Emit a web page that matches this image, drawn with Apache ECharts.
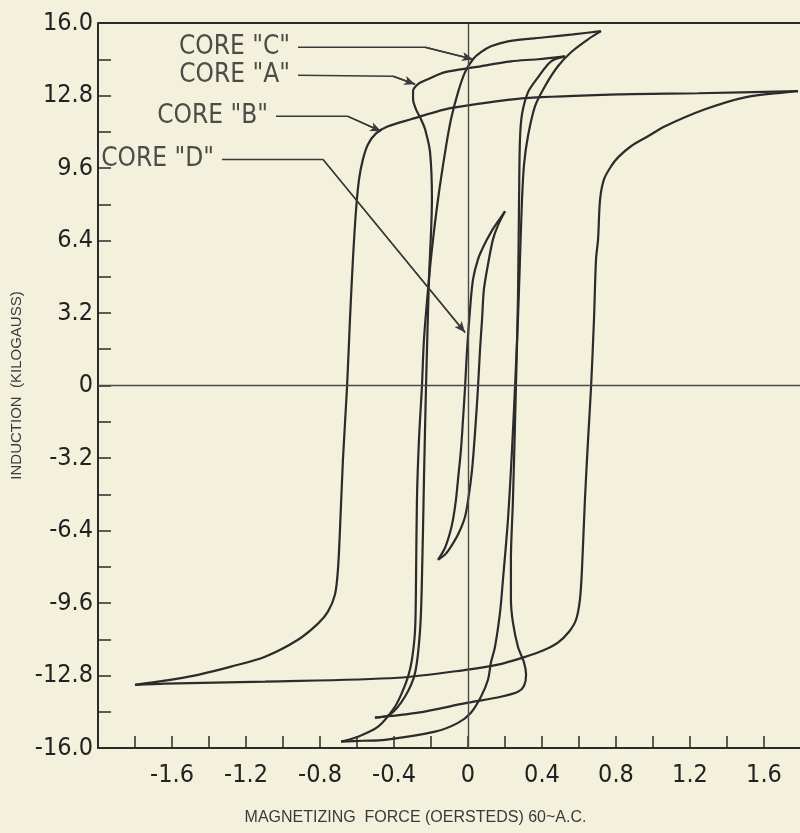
<!DOCTYPE html>
<html>
<head>
<meta charset="utf-8">
<script src="https://cdn.jsdelivr.net/npm/echarts@6/dist/echarts.min.js"></script>
<style>
  html, body { margin: 0; padding: 0; background: #f3f1dc; }
  #chart { width: 800px; height: 833px; }
</style>
</head>
<body>
<div id="chart"></div>
<script>
// ---- Axis ranges / ticks ----
const xMin = -2.0, xMax = 1.8, xStep = 0.2;      // oersteds
const yMin = -16.0, yMax = 16.0, yStep = 1.6;    // kilogauss
const xTitle = 'MAGNETIZING  FORCE (OERSTEDS) 60~A.C.';
const yTitle = 'INDUCTION  (KILOGAUSS)';

// ---- Hysteresis loops: [H (Oe), B (kG)] ----
const coreB_desc = [[1.784,12.99],[1.243,12.90],[0.811,12.85],[0.308,12.68],[0.038,12.41],[-0.124,12.19],[-0.308,11.75],[-0.432,11.44],[-0.497,11.13],[-0.541,10.64],[-0.568,9.98],[-0.589,9.10],[-0.605,7.77],[-0.622,5.57],[-0.638,2.92],[-0.654,-0.09],[-0.676,-3.27],[-0.692,-6.36],[-0.703,-8.13],[-0.719,-9.23],[-0.757,-9.98],[-0.811,-10.51],[-0.919,-11.22],[-1.097,-11.97],[-1.281,-12.41],[-1.459,-12.77],[-1.638,-13.03],[-1.800,-13.21]];
const coreB_asc = [[-1.800,-13.21],[-1.638,-13.16],[-1.097,-13.07],[-0.378,-12.90],[0.0,-12.54],[0.162,-12.32],[0.297,-12.01],[0.405,-11.70],[0.486,-11.35],[0.546,-10.87],[0.584,-10.34],[0.605,-9.45],[0.616,-8.13],[0.632,-5.04],[0.649,-2.39],[0.665,-0.09],[0.681,2.92],[0.692,5.57],[0.703,6.45],[0.714,8.22],[0.735,9.10],[0.773,9.67],[0.811,10.07],[0.881,10.56],[0.973,11.00],[1.065,11.44],[1.281,12.19],[1.497,12.72],[1.714,12.94],[1.784,12.99]];

const coreC_desc = [[0.719,15.64],[0.568,15.50],[0.416,15.37],[0.216,15.19],[0.124,14.97],[0.070,14.71],[0.027,14.40],[-0.016,13.83],[-0.054,12.94],[-0.092,11.75],[-0.124,10.29],[-0.162,8.22],[-0.195,6.01],[-0.216,4.24],[-0.238,2.03],[-0.249,-0.04],[-0.265,-2.39],[-0.276,-5.04],[-0.281,-8.57],[-0.286,-10.78],[-0.303,-12.10],[-0.324,-12.85],[-0.357,-13.56],[-0.395,-14.18],[-0.486,-15.06],[-0.595,-15.50],[-0.686,-15.72]];
const coreC_asc = [[-0.686,-15.72],[-0.568,-15.68],[-0.449,-15.64],[-0.178,-15.28],[-0.054,-14.89],[0.016,-14.44],[0.070,-13.74],[0.108,-12.99],[0.124,-12.23],[0.146,-11.53],[0.173,-10.03],[0.189,-8.57],[0.216,-5.92],[0.238,-2.83],[0.254,-0.09],[0.270,2.92],[0.281,5.57],[0.292,8.22],[0.303,9.76],[0.324,11.00],[0.362,12.32],[0.416,13.21],[0.486,14.09],[0.557,14.71],[0.649,15.28],[0.719,15.64]];

const coreA_desc = [[0.524,14.53],[0.378,14.40],[0.232,14.31],[0.038,14.05],[-0.124,13.83],[-0.216,13.52],[-0.270,13.30],[-0.297,12.99],[-0.297,12.63],[-0.281,12.19],[-0.254,11.75],[-0.232,11.31],[-0.205,10.29],[-0.195,8.22],[-0.211,4.68],[-0.227,-0.04],[-0.238,-4.15],[-0.249,-8.57],[-0.259,-10.78],[-0.286,-12.68],[-0.341,-13.74],[-0.422,-14.53],[-0.503,-14.66]];
const coreA_asc = [[-0.503,-14.66],[-0.270,-14.44],[0.0,-14.00],[0.178,-13.74],[0.270,-13.52],[0.303,-13.25],[0.314,-12.77],[0.303,-12.23],[0.270,-11.53],[0.243,-10.47],[0.232,-9.45],[0.232,-7.69],[0.243,-5.04],[0.259,-0.09],[0.270,3.80],[0.276,8.22],[0.281,10.87],[0.292,11.97],[0.324,12.94],[0.378,13.60],[0.449,14.31],[0.524,14.53]];

const coreD_desc = [[0.200,7.69],[0.162,7.24],[0.124,6.76],[0.086,6.18],[0.054,5.57],[0.027,4.68],[0.011,3.36],[-0.005,1.59],[-0.016,-0.09],[-0.027,-1.50],[-0.038,-2.83],[-0.054,-4.15],[-0.065,-5.04],[-0.081,-5.92],[-0.097,-6.49],[-0.124,-7.16],[-0.162,-7.69]];
const coreD_asc = [[-0.162,-7.69],[-0.124,-7.46],[-0.092,-7.11],[-0.054,-6.58],[-0.016,-5.79],[0.005,-4.81],[0.022,-3.71],[0.038,-2.08],[0.054,-0.09],[0.065,1.59],[0.076,2.92],[0.086,4.24],[0.108,5.34],[0.135,6.45],[0.162,7.07],[0.200,7.69]];

// ---- Callouts: label, then leader polyline [text end, corner, arrow tip] ----
const calloutNames = ['CORE "C"', 'CORE "A"', 'CORE "B"', 'CORE "D"'];
const leaderC = [[-0.919,14.93],[-0.232,14.93],[0.027,14.40]];
const leaderA = [[-0.919,13.69],[-0.405,13.65],[-0.286,13.30]];
const leaderB = [[-1.038,11.88],[-0.649,11.88],[-0.470,11.22]];
const leaderD = [[-1.330,9.98],[-0.784,9.98],[-0.016,2.34]];

const ink = '#2b2b2b';
const narrow = '"Liberation Sans Narrow", "DejaVu Sans Condensed", "Arial Narrow", sans-serif';

function loopSeries(name, data) {
  return {
    name: name, type: 'line', data: data, smooth: 0.3, showSymbol: false, symbol: 'none',
    lineStyle: { color: ink, width: 2.2 }, silent: true, z: 3
  };
}
function leaderSeries(pts) {
  return {
    type: 'line', data: pts, smooth: false, symbol: 'none', silent: true, z: 4,
    lineStyle: { color: '#3a3a3a', width: 1.5 },
    markLine: {
      silent: true, symbol: ['none', 'arrow'], symbolSize: [7, 11],
      label: { show: false },
      lineStyle: { color: '#3a3a3a', width: 1.5, type: 'solid' },
      data: [[{ coord: pts[1] }, { coord: pts[2] }]]
    }
  };
}

const leaders = [leaderC, leaderA, leaderB, leaderD];
const labelData = leaders.map((p, i) => [p[0][0], p[0][1], calloutNames[i]]);

const chart = echarts.init(document.getElementById('chart'), null, { renderer: 'canvas' });
chart.setOption({
  animation: false,
  backgroundColor: '#f3f1dc',
  grid: { left: 98, right: -1, top: 23, bottom: 85, show: false, containLabel: false, outerBoundsMode: 'none' },
  xAxis: {
    type: 'value', min: xMin, max: xMax, interval: xStep,
    name: xTitle, nameLocation: 'middle', nameGap: 62,
    nameTextStyle: { fontFamily: '"Liberation Sans", Arial, sans-serif', fontSize: 16, color: '#3a3a3a', padding: [0, 68, 0, 0] },
    axisLine: { show: true, onZero: false, lineStyle: { color: ink, width: 2 } },
    axisTick: { show: true, inside: true, length: 12, lineStyle: { color: ink, width: 1.5 } },
    splitLine: { show: false },
    axisLabel: {
      margin: 15, fontSize: 25, fontFamily: narrow, color: '#222',
      formatter: function (v) {
        const k = Math.round(v / xStep);
        if (k % 2 !== 0 || Math.abs(v) > 1.6 + 1e-9) return '';
        if (k === 0) return '0';
        return v.toFixed(1);
      }
    }
  },
  yAxis: {
    type: 'value', min: yMin, max: yMax, interval: yStep,
    name: yTitle, nameLocation: 'middle', nameGap: 70,
    nameTextStyle: { fontFamily: '"Liberation Sans", Arial, sans-serif', fontSize: 15, color: '#3a3a3a' },
    axisLine: { show: true, onZero: false, lineStyle: { color: ink, width: 2 } },
    axisTick: { show: true, inside: true, length: 13, lineStyle: { color: ink, width: 1.5 } },
    splitLine: { show: false },
    axisLabel: {
      margin: 5, fontSize: 25, fontFamily: narrow, color: '#222',
      formatter: function (v) {
        const k = Math.round(v / yStep);
        if (k % 2 !== 0) return '';
        if (k === 0) return '0';
        return v.toFixed(1);
      }
    }
  },
  series: [
    {
      type: 'line', data: [], silent: true,
      markLine: {
        silent: true, symbol: ['none', 'none'], label: { show: false },
        lineStyle: { color: '#4a4a4a', width: 1.4, type: 'solid' },
        data: [{ xAxis: 0 }, { yAxis: 0 }, { yAxis: yMax, lineStyle: { color: ink, width: 2 } }]
      }
    },
    loopSeries('Core B', coreB_desc), loopSeries('Core B', coreB_asc),
    loopSeries('Core C', coreC_desc), loopSeries('Core C', coreC_asc),
    loopSeries('Core A', coreA_desc), loopSeries('Core A', coreA_asc),
    loopSeries('Core D', coreD_desc), loopSeries('Core D', coreD_asc),
    leaderSeries(leaderC), leaderSeries(leaderA), leaderSeries(leaderB), leaderSeries(leaderD),
    {
      type: 'scatter', data: labelData, symbolSize: 0, silent: true, z: 5,
      label: {
        show: true, position: 'left', distance: 8,
        fontFamily: narrow, fontSize: 26, color: '#222',
        formatter: function (p) { return p.value[2]; }
      }
    }
  ]
});
</script>
</body>
</html>
